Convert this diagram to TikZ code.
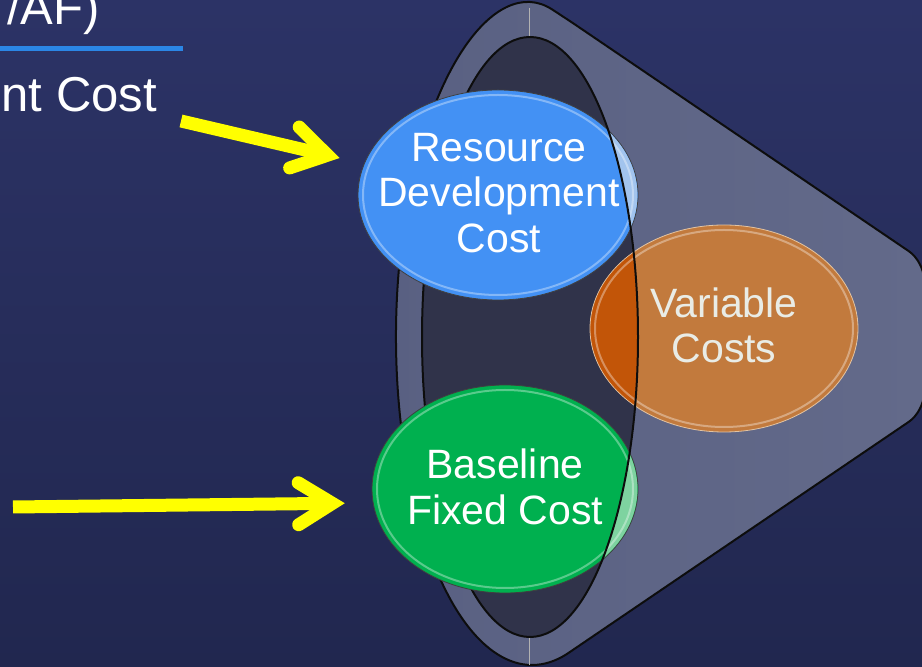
\documentclass[tikz,border=0pt]{standalone}
\usepackage{fontspec}
\setmainfont{Liberation Sans}
\usetikzlibrary{shapes.geometric,arrows.meta}
\definecolor{bgtop}{HTML}{2C3366}
\definecolor{bgbot}{HTML}{21274F}
\definecolor{conel}{HTML}{596082}
\definecolor{coner}{HTML}{636A8A}
\definecolor{innerc}{HTML}{30334A}
\definecolor{bluec}{HTML}{4391F4}
\definecolor{bluelt}{HTML}{A2C4EE}
\definecolor{greenc}{HTML}{00B04F}
\definecolor{greenlt}{HTML}{7ED3A0}
\definecolor{orangec}{HTML}{C27A3D}
\definecolor{orangedk}{HTML}{C25508}
\definecolor{orangeedge}{HTML}{E2C3A2}
\definecolor{yel}{HTML}{FFFF00}
\definecolor{rulec}{HTML}{2B86E6}
\definecolor{vtext}{HTML}{E9ECE6}
\begin{document}
\begin{tikzpicture}[x=1pt,y=1pt,
  blob/.style={ellipse, inner sep=0pt, draw=black!75, line width=0.8pt},
  lbl/.style={text=white, font=\fontsize{41}{45.5}\selectfont, align=center, inner sep=0pt},
  titletext/.style={text=white, font=\fontsize{49}{56}\selectfont, inner sep=0pt},
  yarrow/.style={draw=yel, line width=13pt, -{Straight Barb[length=34pt,width=42pt,line width=13pt,line cap=round,line join=miter]}},
  rim/.style={draw=black!95, line width=2pt},
  gloss/.style={draw=white, opacity=0.35, line width=2pt}]
\useasboundingbox (0,0) rectangle (922,667);
\clip (0,0) rectangle (922,667);
\shade[top color=bgtop,bottom color=bgbot] (0,0) rectangle (922,667);

% funnel body
\path[left color=conel,right color=coner,rim] (924,330.5) [rounded corners=18pt] -- (924,405.5) -- (567.2,647.8) [sharp corners] arc[start angle=75,end angle=285,x radius=136,y radius=328.5] [rounded corners=18pt] -- (924,255.5) -- cycle;
% opening
\fill[innerc] (530,330) ellipse[x radius=108,y radius=300];
\draw[gray!60!white, line width=0.6pt] (529,659) -- (529,630) (529,30) -- (529,2);
\draw[rim] (530,630) arc[start angle=90,end angle=270,x radius=108,y radius=300];

% blobs
\node[blob, fill=bluec, minimum width=280pt, minimum height=210pt] (blue) at (498,472) {};
\node[blob, fill=orangec, draw=orangeedge, minimum width=268pt, minimum height=207pt] (orange) at (724,338.5) {};
\node[blob, fill=greenc, minimum width=266pt, minimum height=208pt] (green) at (505,178) {};

\begin{scope}
\clip (530,-5) -- (530,30) arc[start angle=-90,end angle=90,x radius=108,y radius=300] -- (530,672) -- (930,672) -- (930,-5) -- cycle;
\fill[bluelt] (blue.center) ellipse[x radius=139.4,y radius=104.4];
\fill[greenlt] (green.center) ellipse[x radius=132.4,y radius=103.4];
\end{scope}
\begin{scope}
\clip (530,330) ellipse[x radius=108,y radius=300];
\fill[orangedk] (orange.center) ellipse[x radius=133.4,y radius=103];
\end{scope}
\draw[gloss] (blue.center) ellipse[x radius=135,y radius=100];
\draw[gloss] (orange.center) ellipse[x radius=129,y radius=98.5];
\draw[gloss] (green.center) ellipse[x radius=128,y radius=99];

\draw[rim] (530,30) arc[start angle=-90,end angle=90,x radius=108,y radius=300];

% labels
\node[lbl] (blueLbl) at (499,474) {Resource\\Development\\Cost};
\node[lbl, text=vtext] (orangeLbl) at (724,341.5) {Variable\\Costs};
\node[lbl] (greenLbl) at (505,180) {Baseline\\Fixed Cost};

% heading fragments
\node[titletext, anchor=base east] (head1) at (100,642) {/AF)};
\node[titletext, anchor=base east] (head2) at (157,555) {nt Cost};
\coordinate (ruleL) at (0,618);
\coordinate (ruleR) at (183,618);
\draw[rulec, line width=5pt] (ruleL) -- (ruleR);

% arrows
\coordinate (aA) at (181,546);
\coordinate (aB) at (13,160);
\draw[yarrow, shorten >=25pt] (aA) -- (blue);
\draw[yarrow, shorten >=28pt] (aB) -- (green.186);
\end{tikzpicture}
\end{document}
